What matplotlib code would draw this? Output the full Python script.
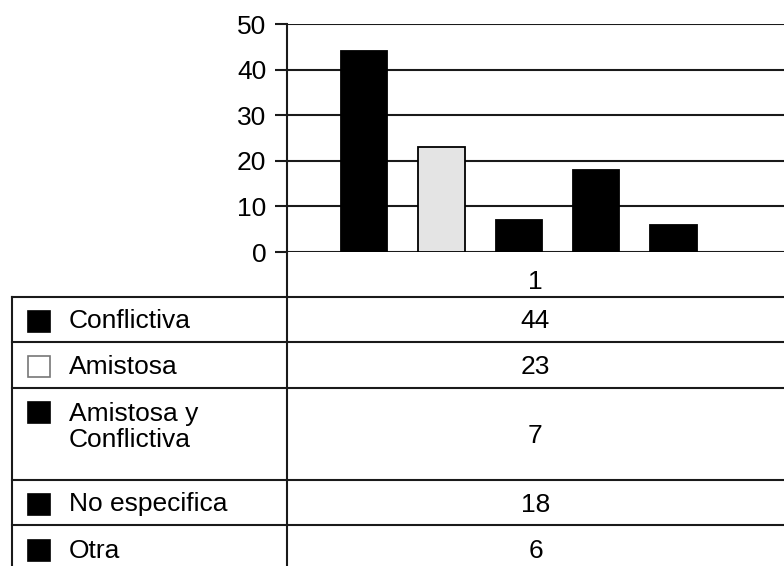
import matplotlib.pyplot as plt
from matplotlib.patches import Rectangle

# Datos del grafico
categorias = ["Conflictiva", "Amistosa", "Amistosa y\nConflictiva", "No especifica", "Otra"]
valores = [44, 23, 7, 18, 6]
rellenos = ["black", "#e4e4e4", "black", "black", "black"]
serie = "1"
marcas_y = [0, 10, 20, 30, 40, 50]

W, H = 784, 566
plt.rcParams["font.family"] = ["Liberation Sans", "DejaVu Sans"]
plt.rcParams["font.size"] = 19

fig = plt.figure(figsize=(W / 100, H / 100), dpi=100)


def caja(x0, y0, x1, y1):
    """Rectangulo en pixeles (origen arriba a la izquierda) -> fraccion de figura"""
    return [x0 / W, 1 - y1 / H, (x1 - x0) / W, (y1 - y0) / H]


# Capa de fondo en pixeles para la tabla de datos
tab = fig.add_axes([0, 0, 1, 1])
tab.set_xlim(0, W)
tab.set_ylim(H, 0)
tab.axis("off")

# Grafico de barras
ax = fig.add_axes(caja(287, 24, 784, 252))
pos = range(1, len(valores) + 1)
ax.bar(pos, valores, width=0.6, color=rellenos, edgecolor="black", linewidth=1.3, zorder=3)
ax.set_xlim(0, 6.43)
ax.set_ylim(0, 50)
ax.set_yticks(marcas_y)
ax.yaxis.grid(True, color="#1a1a1a", linewidth=1.5)
ax.set_axisbelow(True)
ax.tick_params(axis="y", length=9, width=1.5, color="#1a1a1a", pad=6, labelsize=19)
ax.set_xticks([sum(ax.get_xlim()) / 2])
ax.set_xticklabels([serie])
ax.tick_params(axis="x", length=0, pad=13, labelsize=19)
for lado in ["top", "right", "bottom"]:
    ax.spines[lado].set_visible(False)
ax.spines["left"].set_color("#1a1a1a")
ax.spines["left"].set_linewidth(1.5)

# Tabla: lineas
filas = [297, 342, 388, 480, 525, 573]
col_izq, col_div = 12, 287
lw, lc = 1.5, "#1a1a1a"
for y in filas[:-1]:
    tab.plot([col_izq, W], [y, y], color=lc, lw=lw)
tab.plot([col_izq, col_izq], [filas[0], H], color=lc, lw=lw)
tab.plot([col_div, col_div], [252, H], color=lc, lw=lw)

# Tabla: leyenda y valores
xc_val = (col_div + W) / 2
for i, (cat, val, rel) in enumerate(zip(categorias, valores, rellenos)):
    y0, y1 = filas[i], filas[i + 1]
    yc = (y0 + y1) / 2 + 2
    if "\n" in cat:
        tab.text(69, y0 + 14, cat, ha="left", va="top", fontsize=19, linespacing=1.12)
        sq_top = y0 + 14
    else:
        tab.text(69, yc, cat, ha="left", va="center", fontsize=19)
        sq_top = yc - 11
    borde = "#777777" if rel != "black" else "black"
    cara = "white" if rel != "black" else "black"
    tab.add_patch(Rectangle((28, sq_top), 22, 21, facecolor=cara, edgecolor=borde, lw=1.2))
    tab.text(xc_val, yc, str(val), ha="center", va="center", fontsize=19)

fig.savefig("out.png", dpi=100)
